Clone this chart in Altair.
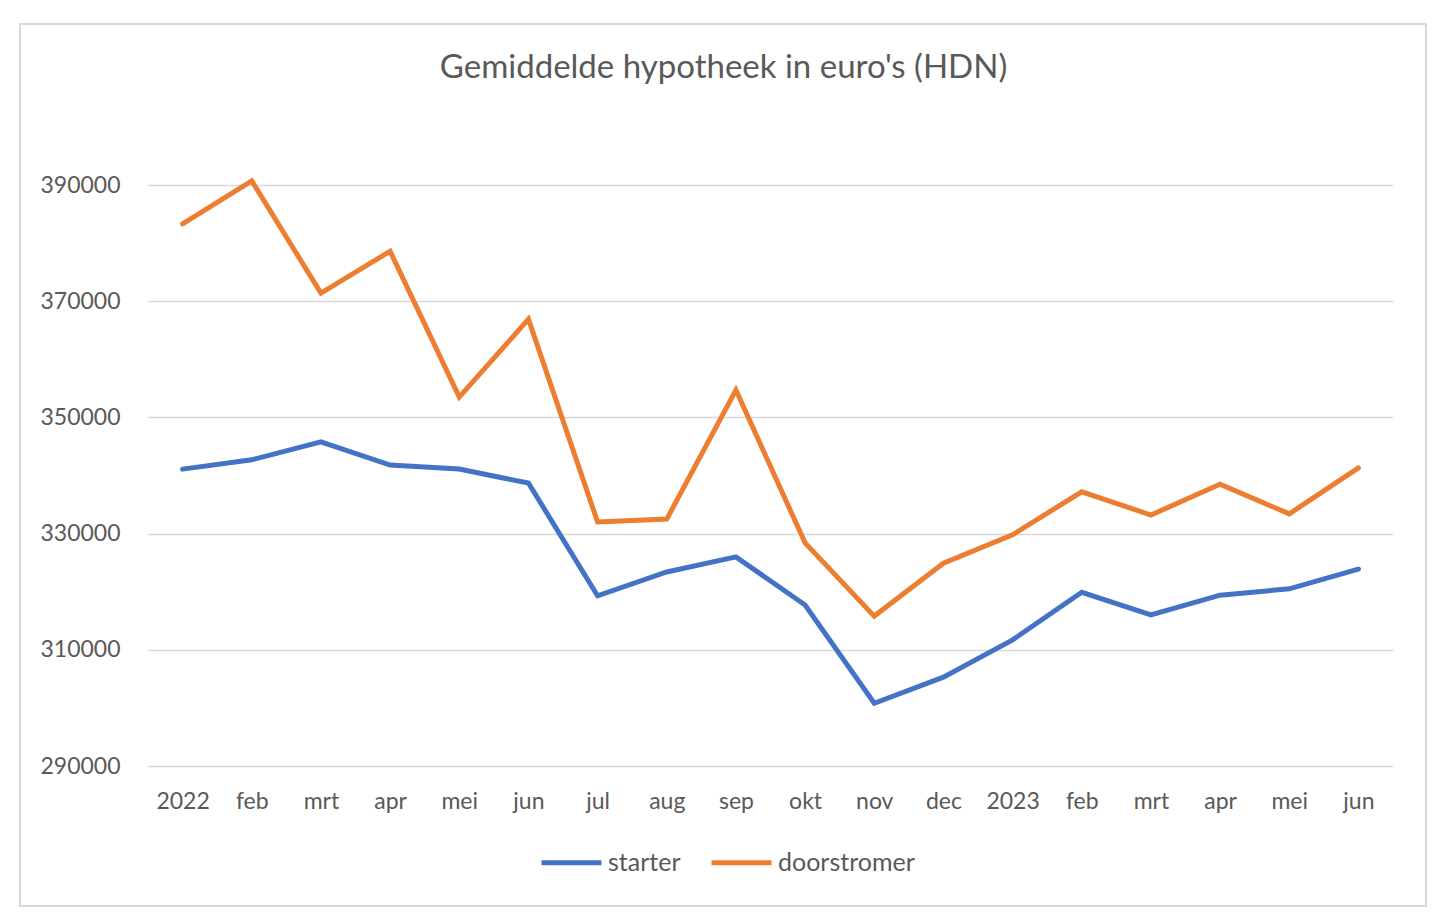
import altair as alt
import pandas as pd

labels = ["2022", "feb", "mrt", "apr", "mei", "jun", "jul", "aug", "sep", "okt",
          "nov", "dec", "2023", "feb", "mrt", "apr", "mei", "jun"]
starter = [341100, 342700, 345800, 341800, 341100, 338700, 319300, 323400, 326000,
           317700, 300800, 305300, 311700, 319900, 316000, 319400, 320500, 323900]
doorstromer = [383300, 390700, 371400, 378600, 353500, 366900, 332000, 332500, 354700,
               328400, 315800, 324900, 329800, 337200, 333200, 338500, 333400, 341300]

rows = []
for i in range(len(labels)):
    rows.append({"idx": i, "reeks": "starter", "waarde": starter[i]})
    rows.append({"idx": i, "reeks": "doorstromer", "waarde": doorstromer[i]})
data = pd.DataFrame(rows)

label_expr = "[" + ",".join("'%s'" % l for l in labels) + "][datum.value]"
font = "Lato"
grey = "#595959"

lines = alt.Chart(data).mark_line(strokeWidth=5, strokeCap="round", strokeJoin="miter").encode(
    x=alt.X("idx:O", title=None,
            scale=alt.Scale(type="point", padding=0.5),
            axis=alt.Axis(labelExpr=label_expr, labelAngle=0, labelFontSize=23,
                          labelColor=grey, labelFont=font, labelPadding=24,
                          ticks=False, domain=False, grid=False)),
    y=alt.Y("waarde:Q", title=None,
            scale=alt.Scale(domain=[290000, 390000], nice=False, zero=False),
            axis=alt.Axis(values=[290000, 310000, 330000, 350000, 370000, 390000],
                          format="d", labelFontSize=23, labelColor=grey, labelFont=font,
                          labelPadding=28, ticks=False, domain=False,
                          gridColor="#d9d9d9", gridWidth=1.5)),
    color=alt.Color("reeks:N", title=None,
                    scale=alt.Scale(domain=["starter", "doorstromer"],
                                    range=["#4472C4", "#ED7D31"]),
                    legend=alt.Legend(orient="none", legendX=391, legendY=645,
                                      direction="horizontal", symbolType="stroke",
                                      symbolSize=3600, symbolStrokeWidth=5,
                                      labelFontSize=25, labelColor=grey, labelFont=font,
                                      labelOffset=4, columnPadding=20)),
)

frame = alt.Chart(data).mark_rect(fill=None, stroke="#d9d9d9", strokeWidth=1.5, clip=False).encode(
    x=alt.value(-128), x2=alt.value(1278), y=alt.value(-161), y2=alt.value(721)
)

chart = alt.layer(frame, lines).properties(
    width=1245,
    height=581,
    padding={"left": 140, "top": 177, "right": 39, "bottom": 148},
    autosize=alt.AutoSizeParams(type="none"),
    title=alt.TitleParams("Gemiddelde hypotheek in euro's (HDN)", font=font, fontSize=33,
                          fontWeight="normal", color=grey, anchor="middle", dx=-47,
                          baseline="alphabetic", offset=-88),
).configure_view(stroke=None)

chart.save("out.html", embed_options={"renderer": "svg", "actions": False})
